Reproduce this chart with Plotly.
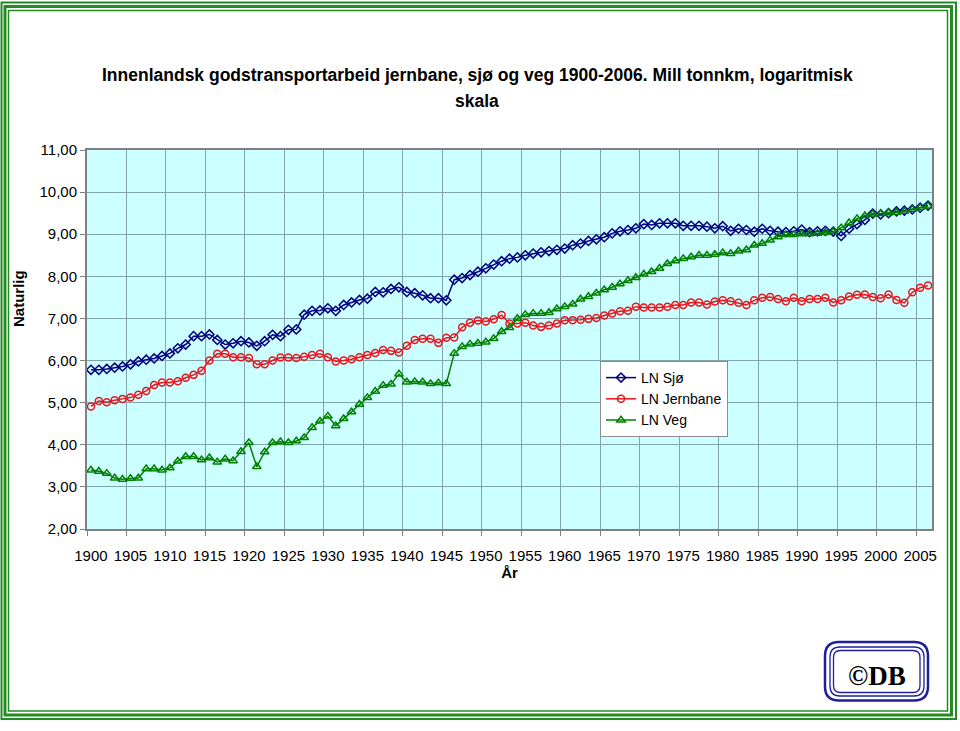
"""Innenlandsk godstransportarbeid 1900-2006, naturlig logaritme av mill tonnkm."""

import plotly.graph_objects as go

YEARS = list(range(1900, 2007))

LN_SJO = [
    5.78, 5.78, 5.80, 5.83, 5.86, 5.91, 5.98, 6.02, 6.05, 6.11,
    6.17, 6.29, 6.38, 6.58, 6.58, 6.62, 6.49, 6.38, 6.41, 6.46,
    6.43, 6.35, 6.46, 6.61, 6.58, 6.73, 6.74, 7.09, 7.18, 7.19,
    7.24, 7.18, 7.32, 7.38, 7.44, 7.47, 7.63, 7.62, 7.70, 7.74,
    7.63, 7.60, 7.55, 7.48, 7.48, 7.43, 7.92, 7.96, 8.03, 8.11,
    8.19, 8.28, 8.36, 8.42, 8.45, 8.50, 8.54, 8.57, 8.60, 8.63,
    8.66, 8.74, 8.78, 8.84, 8.88, 8.93, 9.02, 9.07, 9.10, 9.14,
    9.24, 9.22, 9.26, 9.26, 9.26, 9.20, 9.20, 9.20, 9.18, 9.14,
    9.19, 9.08, 9.13, 9.10, 9.06, 9.13, 9.08, 9.06, 9.05, 9.07,
    9.11, 9.05, 9.07, 9.08, 9.06, 8.96, 9.13, 9.24, 9.34, 9.49,
    9.47, 9.50, 9.54, 9.56, 9.59, 9.63, 9.68,
]

LN_JERNBANE = [
    4.91, 5.04, 5.01, 5.06, 5.09, 5.12, 5.19, 5.28, 5.42, 5.48,
    5.48, 5.51, 5.59, 5.66, 5.76, 6.00, 6.16, 6.16, 6.08, 6.08,
    6.06, 5.91, 5.91, 6.00, 6.07, 6.07, 6.06, 6.09, 6.13, 6.16,
    6.08, 5.98, 6.00, 6.03, 6.08, 6.13, 6.18, 6.25, 6.23, 6.19,
    6.35, 6.49, 6.52, 6.52, 6.42, 6.54, 6.55, 6.79, 6.90, 6.95,
    6.93, 6.98, 7.08, 6.88, 6.88, 6.90, 6.83, 6.80, 6.83, 6.88,
    6.96, 6.96, 6.97, 6.99, 7.01, 7.07, 7.12, 7.17, 7.18, 7.28,
    7.26, 7.26, 7.26, 7.28, 7.32, 7.32, 7.38, 7.38, 7.33, 7.40,
    7.43, 7.41, 7.37, 7.32, 7.43, 7.49, 7.51, 7.46, 7.41, 7.49,
    7.41, 7.46, 7.46, 7.49, 7.38, 7.43, 7.52, 7.56, 7.57, 7.51,
    7.48, 7.57, 7.44, 7.37, 7.62, 7.73, 7.78,
]

LN_VEG = [
    3.40, 3.37, 3.32, 3.21, 3.18, 3.20, 3.21, 3.43, 3.43, 3.40,
    3.45, 3.61, 3.72, 3.72, 3.64, 3.69, 3.59, 3.66, 3.62, 3.84,
    4.05, 3.48, 3.83, 4.05, 4.07, 4.05, 4.09, 4.17, 4.41, 4.56,
    4.68, 4.45, 4.62, 4.78, 4.96, 5.12, 5.27, 5.41, 5.44, 5.68,
    5.49, 5.50, 5.49, 5.45, 5.47, 5.45, 6.17, 6.33, 6.39, 6.41,
    6.44, 6.52, 6.69, 6.78, 7.00, 7.09, 7.12, 7.12, 7.14, 7.23,
    7.28, 7.34, 7.46, 7.52, 7.60, 7.68, 7.74, 7.82, 7.90, 7.97,
    8.05, 8.11, 8.19, 8.30, 8.37, 8.42, 8.46, 8.50, 8.50, 8.52,
    8.56, 8.54, 8.60, 8.63, 8.74, 8.78, 8.86, 8.94, 8.99, 8.99,
    9.01, 9.01, 9.02, 9.04, 9.06, 9.15, 9.27, 9.37, 9.44, 9.48,
    9.49, 9.51, 9.52, 9.54, 9.59, 9.63, 9.67,
]

SERIES_NAMES = ["LN Sjø", "LN Jernbane", "LN Veg"]
TICK_YEARS = list(range(1900, 2006, 5))
TITLE_LINES = [
    "Innenlandsk godstransportarbeid jernbane, sjø og veg 1900-2006. Mill tonnkm, logaritmisk",
    "skala",
]
Y_TITLE = "Naturlig"
X_TITLE = "År"

FONT = "Liberation Sans, Arial, Helvetica, sans-serif"
GRID = "#7FA6AD"
BORDER_GREEN = "#228B22"
LOGO_BLUE = "#1F1F99"

W, H = 960, 731
PLOT_L, PLOT_R, PLOT_T, PLOT_B = 87, 932, 150, 529


def px(x):
    """Pixel x -> paper x."""
    return (x - PLOT_L) / (PLOT_R - PLOT_L)


def py(y):
    """Pixel y (from top) -> paper y."""
    return (PLOT_B - y) / (PLOT_B - PLOT_T)


def rect_shape(x0, y0, x1, y1, color, width):
    return dict(
        type="rect", xref="paper", yref="paper",
        x0=px(x0), x1=px(x1), y0=py(y0), y1=py(y1),
        line=dict(color=color, width=width), fillcolor="rgba(0,0,0,0)", layer="above",
    )


def rounded_rect_shape(x0, y0, x1, y1, r, color, width):
    """Rounded rectangle drawn as a path in paper coordinates."""
    pts = [
        ("M", [(x0 + r, y0)]),
        ("L", [(x1 - r, y0)]),
        ("Q", [(x1, y0), (x1, y0 + r)]),
        ("L", [(x1, y1 - r)]),
        ("Q", [(x1, y1), (x1 - r, y1)]),
        ("L", [(x0 + r, y1)]),
        ("Q", [(x0, y1), (x0, y1 - r)]),
        ("L", [(x0, y0 + r)]),
        ("Q", [(x0, y0), (x0 + r, y0)]),
    ]
    path = " ".join(
        cmd + " " + " ".join(f"{px(a):.5f},{py(b):.5f}" for a, b in coords)
        for cmd, coords in pts
    ) + " Z"
    return dict(
        type="path", xref="paper", yref="paper", path=path,
        line=dict(color=color, width=width), layer="above",
    )


def build_figure():
    styles = [
        ("#000080", "diamond-open", 7),
        ("#E8161E", "circle-open", 7),
        ("#008000", "triangle-up-open", 7.5),
    ]
    fig = go.Figure()
    for name, values, (color, symbol, size) in zip(
        SERIES_NAMES, [LN_SJO, LN_JERNBANE, LN_VEG], styles
    ):
        fig.add_trace(
            go.Scatter(
                x=YEARS, y=values, mode="lines+markers", name=name,
                line=dict(color=color, width=1.5),
                marker=dict(symbol=symbol, size=size, color=color, line=dict(width=1.5, color=color)),
            )
        )

    shapes = [
        rect_shape(1.5, 2.5, 956, 719, BORDER_GREEN, 2),
        rect_shape(5, 6.5, 951.5, 715, BORDER_GREEN, 3),
        rect_shape(8.5, 10.5, 947.5, 711, BORDER_GREEN, 1.5),
        rounded_rect_shape(825, 642, 928, 700.5, 14, LOGO_BLUE, 2.5),
        rounded_rect_shape(830, 647, 924, 696, 10, LOGO_BLUE, 1.3),
        rounded_rect_shape(833.5, 650.5, 920, 692.5, 7, LOGO_BLUE, 1.3),
    ]

    annotations = [
        dict(text=f"<b>{TITLE_LINES[0]}</b>", x=px(477), y=py(75), xref="paper", yref="paper",
             showarrow=False, xanchor="center", yanchor="middle", font=dict(size=17.5)),
        dict(text=f"<b>{TITLE_LINES[1]}</b>", x=px(477), y=py(101), xref="paper", yref="paper",
             showarrow=False, xanchor="center", yanchor="middle", font=dict(size=17.5)),
        dict(text=f"<b>{Y_TITLE}</b>", x=px(18), y=py(299), xref="paper", yref="paper",
             showarrow=False, textangle=-90, xanchor="center", yanchor="middle", font=dict(size=15)),
        dict(text="<b>©DB</b>", x=px(877), y=py(676), xref="paper", yref="paper",
             showarrow=False, xanchor="center", yanchor="middle",
             font=dict(size=27, family="Liberation Serif, Times New Roman, serif", color="black")),
    ]

    fig.update_layout(
        width=W, height=H,
        margin=dict(l=PLOT_L, r=W - PLOT_R, t=PLOT_T, b=H - PLOT_B, pad=0),
        paper_bgcolor="white",
        plot_bgcolor="#CCFFFF",
        font=dict(family=FONT, size=15, color="black"),
        separators=",.",
        showlegend=True,
        legend=dict(
            x=px(600), y=py(361), xanchor="left", yanchor="top",
            bgcolor="white", bordercolor="#8C8C8C", borderwidth=1,
            font=dict(size=14), itemwidth=30, tracegroupgap=0,
        ),
        shapes=shapes,
        annotations=annotations,
        xaxis=dict(
            range=[1899.5, 2006.5],
            tickmode="array", tickvals=TICK_YEARS, ticktext=[str(y) for y in TICK_YEARS],
            ticks="", showgrid=False, ticklabelstandoff=12,
            minor=dict(tick0=1899.5, dtick=5, showgrid=True, gridcolor=GRID, gridwidth=1,
                       ticks="outside", ticklen=5, tickcolor="#808080"),
            showline=True, linecolor="#808080", linewidth=2, mirror=True,
            zeroline=False, fixedrange=True,
            title=dict(text=f"<b>{X_TITLE}</b>", standoff=4, font=dict(size=15)),
        ),
        yaxis=dict(
            range=[2, 11], dtick=1, tick0=2, tickformat=".2f",
            showgrid=True, gridcolor=GRID, gridwidth=1,
            ticks="outside", ticklen=5, tickcolor="#808080",
            showline=True, linecolor="#808080", linewidth=2, mirror=True,
            zeroline=False, fixedrange=True,
        ),
    )
    return fig


fig = build_figure()
# The page body has a default 8px margin; drop it so the figure fills the window.
fig.write_html(
    "out.html",
    config={"displayModeBar": False},
    post_script="document.body.style.margin='0';",
)
